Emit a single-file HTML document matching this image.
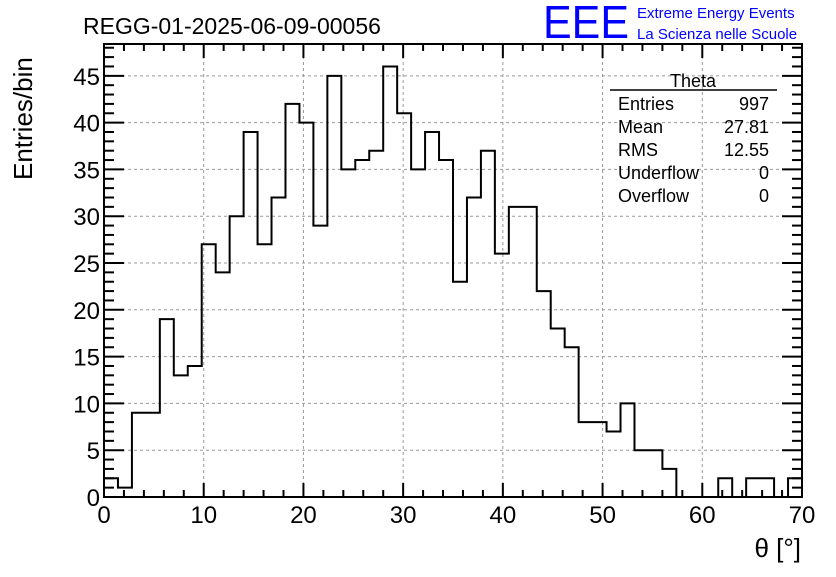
<!DOCTYPE html>
<html><head><meta charset="utf-8"><style>
body{margin:0;background:#fff;}
svg text{font-family:"Liberation Sans",sans-serif;}
</style></head><body>
<svg id="c" width="836" height="572" xmlns="http://www.w3.org/2000/svg">
<rect width="836" height="572" fill="#fff"/>
<g id="grid"></g>
<g id="hist"></g>
<g id="axes"></g>
<text x="83" y="34" font-size="23">REGG-01-2025-06-09-00056</text>
<text x="543" y="38" font-size="46" fill="#0000ff" textLength="86" lengthAdjust="spacingAndGlyphs">EEE</text>
<text x="637" y="18" font-size="15" fill="#0000ff">Extreme Energy Events</text>
<text x="637" y="39" font-size="15" fill="#0000ff">La Scienza nelle Scuole</text>
<text transform="translate(32,180) rotate(-90)" font-size="26">Entries/bin</text>
<text x="801" y="557" font-size="26" text-anchor="end">θ [°]</text>
<g font-size="18">
<line x1="610" y1="90" x2="777" y2="90" stroke="#000" stroke-width="1.5"/>
<text x="693" y="87" text-anchor="middle">Theta</text>
<text x="618" y="110">Entries</text><text x="769" y="110" text-anchor="end">997</text>
<text x="618" y="133">Mean</text><text x="769" y="133" text-anchor="end">27.81</text>
<text x="618" y="156">RMS</text><text x="769" y="156" text-anchor="end">12.55</text>
<text x="618" y="179">Underflow</text><text x="769" y="179" text-anchor="end">0</text>
<text x="618" y="202">Overflow</text><text x="769" y="202" text-anchor="end">0</text>
</g>
</svg>
<script>
const counts=[2,1,9,9,19,13,14,27,24,30,39,27,32,42,40,29,45,35,36,37,46,41,35,39,36,23,32,37,26,31,31,22,18,16,8,8,7,10,5,5,3,0,0,0,2,0,2,2,0,2];
const xMin=0, xMax=70;
const yMin=0, yMax=48.4;
const xTickLabels=[0,10,20,30,40,50,60,70];
const yTickLabels=[0,5,10,15,20,25,30,35,40,45];
const L=104,R=802,T=44,B=497;
const NS='http://www.w3.org/2000/svg';
const xs=v=>L+(v-xMin)/(xMax-xMin)*(R-L);
const ys=v=>B-(v-yMin)/(yMax-yMin)*(B-T);
function mk(tag,attrs,parent){const e=document.createElementNS(NS,tag);for(const k in attrs)e.setAttribute(k,attrs[k]);parent.appendChild(e);return e;}
const grid=document.getElementById('grid'),hist=document.getElementById('hist'),axes=document.getElementById('axes');
xTickLabels.forEach(v=>{if(v>xMin&&v<xMax){const l=mk('line',{x1:xs(v),x2:xs(v),y1:T,y2:B,stroke:'#999','stroke-dasharray':'3,3'},grid);

}});
yTickLabels.forEach(v=>{if(v>yMin){const l=mk('line',{x1:L,x2:R,y1:ys(v),y2:ys(v),stroke:'#999','stroke-dasharray':'3,3'},grid);

}});
const w=(xMax-xMin)/counts.length;
let d='M'+xs(xMin)+','+ys(0);
counts.forEach((c,i)=>{d+=' L'+xs(xMin+i*w)+','+ys(c)+' L'+xs(xMin+(i+1)*w)+','+ys(c);});
d+=' L'+xs(xMax)+','+ys(0);
const p=mk('path',{d:d,fill:'none',stroke:'#000','stroke-width':2},hist);


const f=mk('rect',{x:L,y:T,width:R-L,height:B-T,fill:'none',stroke:'#000','stroke-width':2},axes);


for(let v=xMin;v<=xMax;v+=2){const big=v%10===0,len=big?14:7;
mk('line',{x1:xs(v),x2:xs(v),y1:B,y2:B-len,stroke:'#000','stroke-width':2},axes);
mk('line',{x1:xs(v),x2:xs(v),y1:T,y2:T+len,stroke:'#000','stroke-width':2},axes);}
for(let v=yMin;v<=48;v+=1){const big=v%5===0,len=big?20:10;
mk('line',{x1:L,x2:L+len,y1:ys(v),y2:ys(v),stroke:'#000','stroke-width':2},axes);
mk('line',{x1:R,x2:R-len,y1:ys(v),y2:ys(v),stroke:'#000','stroke-width':2},axes);}
xTickLabels.forEach(v=>{const t=mk('text',{x:xs(v),y:B+26,'font-size':24,'text-anchor':'middle'},axes);t.textContent=v;

});
yTickLabels.forEach(v=>{const t=mk('text',{x:L-4,y:ys(v)+9,'font-size':24,'text-anchor':'end'},axes);t.textContent=v;

});
</script>
</body></html>
